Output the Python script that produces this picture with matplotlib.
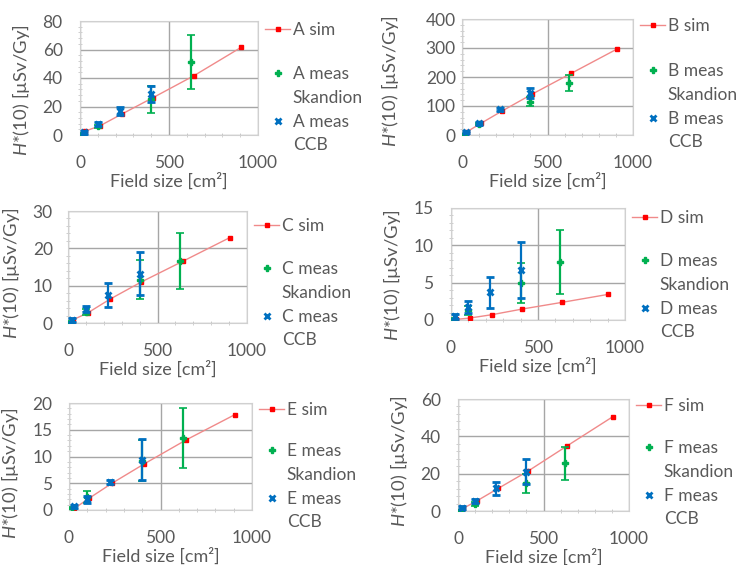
import numpy as np
import matplotlib.pyplot as plt
from matplotlib.lines import Line2D
from matplotlib.ticker import MultipleLocator, AutoMinorLocator

plt.rcParams['font.family'] = ['Lato', 'DejaVu Sans']
plt.rcParams['mathtext.fontset'] = 'custom'
plt.rcParams['mathtext.it'] = 'Lato:italic'
plt.rcParams['mathtext.rm'] = 'Lato'

# field sizes [cm2]
sim_x = [30, 110, 235, 410, 640, 905]
skan_x = [16, 100, 400, 625]
ccb_x = [25, 100, 225, 400]

# panel A
a_sim = [2.8, 6.3, 14.7, 26.2, 41.6, 61.5]
a_skan = [1.0, 6.0, 25.0, 51.0]
a_skan_err = [0.5, 1.0, 9.5, 19.0]
a_ccb = [2.0, 7.5, 17.0, 29.0]
a_ccb_err = [1.0, 1.5, 2.8, 5.5]

# panel B
b_sim = [11.5, 40, 83, 141, 213, 296]
b_skan = [3, 38, 115, 179]
b_skan_err = [1.5, 4, 15, 27]
b_ccb = [11, 40, 88, 145]
b_ccb_err = [4, 6, 6, 18]

# panel C
c_sim = [0.9, 2.7, 6.4, 11.0, 16.5, 22.9]
c_skan = [0.3, 3.0, 11.6, 16.5]
c_skan_err = [0.2, 0.8, 5.2, 7.5]
c_ccb = [0.8, 3.8, 7.6, 13.2]
c_ccb_err = [0.5, 0.8, 3.2, 5.7]

# panel D
d_sim = [0.08, 0.27, 0.71, 1.47, 2.37, 3.44]
d_skan = [0.2, 1.3, 5.0, 7.8]
d_skan_err = [0.1, 0.6, 2.7, 4.3]
d_ccb = [0.5, 1.8, 3.7, 6.7]
d_ccb_err = [0.3, 0.8, 2.1, 3.7]

# panel E
e_sim = [0.3, 2.2, 5.0, 8.6, 13.1, 17.8]
e_skan = [0.3, 2.5, 9.2, 13.4]
e_skan_err = [0.2, 1.1, 3.8, 5.6]
e_ccb = [0.7, 2.0, 5.3, 9.4]
e_ccb_err = [0.3, 0.6, 0.4, 3.8]

# panel F
f_sim = [1.4, 5.4, 12.1, 21.4, 35.0, 50.5]
f_skan = [0.5, 3.8, 14.8, 25.5]
f_skan_err = [0.3, 1.0, 5.0, 9.0]
f_ccb = [1.8, 5.4, 12.1, 21.0]
f_ccb_err = [0.8, 1.2, 3.7, 6.8]

panels = [
    ("A", a_sim, a_skan, a_skan_err, a_ccb, a_ccb_err, 80, 20),
    ("B", b_sim, b_skan, b_skan_err, b_ccb, b_ccb_err, 400, 100),
    ("C", c_sim, c_skan, c_skan_err, c_ccb, c_ccb_err, 30, 10),
    ("D", d_sim, d_skan, d_skan_err, d_ccb, d_ccb_err, 15, 5),
    ("E", e_sim, e_skan, e_skan_err, e_ccb, e_ccb_err, 20, 5),
    ("F", f_sim, f_skan, f_skan_err, f_ccb, f_ccb_err, 60, 20),
]

# layout in pixels: axes box (left, right, top, bottom), y tick pad,
# y label offset (dx, dy), legend rows (sim row, first meas row) below axes top
layout = [
    ((80, 258, 21, 135), 12.5, (48, 12), (6, 52)),
    ((462, 633, 19, 135), 4.5, (61, 4), (4, 51)),
    ((68, 247, 211, 323), 11.0, (46, 6), (12, 57)),
    ((451, 625, 208, 320), 12.5, (48, 11), (7, 52)),
    ((69, 252, 403, 510), 12.0, (48, 17), (4, 47)),
    ((458, 629, 399, 511), 12.5, (48, 6), (4, 48)),
]

W, H = 756, 565
txt = '#595959'
red, red_line, green, blue = '#ff0000', '#f08a8a', '#00b050', '#0070c0'
fs = 12.5
fig = plt.figure(figsize=(W / 100, H / 100), dpi=100)

for (name, sim, skan, skan_err, ccb, ccb_err, ymax, ystep), \
        ((l, r, t, b), ypad, (ldx, ldy), (sim_row, meas_row)) in zip(panels, layout):
    w, h = r - l, b - t
    ax = fig.add_axes([l / W, 1 - b / H, w / W, h / H])
    ax.plot(sim_x, sim, color=red_line, lw=1.0, marker='s', ms=3.5,
            mfc=red, mec=red, zorder=3)
    ax.errorbar(skan_x, skan, yerr=skan_err, fmt='P', ms=4, color=green,
                ecolor=green, elinewidth=1.6, capsize=3, capthick=1.2, zorder=4)
    ax.errorbar(ccb_x, ccb, yerr=ccb_err, fmt='x', ms=5, mew=2, color=blue,
                ecolor=blue, elinewidth=1.6, capsize=3, capthick=1.2, zorder=5)

    ax.set_xlim(0, 1000)
    ax.set_ylim(0, ymax)
    ax.xaxis.set_major_locator(MultipleLocator(500))
    ax.yaxis.set_major_locator(MultipleLocator(ystep))
    ax.xaxis.set_minor_locator(AutoMinorLocator(5))
    ax.yaxis.set_minor_locator(AutoMinorLocator(5))
    ax.grid(True, which='major', color='#a6a6a6', lw=1.0)
    ax.set_axisbelow(True)
    for s in ax.spines.values():
        s.set_color('#d0d0d0')
    ax.tick_params(which='major', length=0, labelsize=fs, labelcolor=txt)
    ax.tick_params(axis='x', which='major', pad=14.5)
    ax.tick_params(axis='y', which='major', pad=ypad)
    ax.tick_params(which='minor', length=3, color='#c8c8c8', direction='inout')
    ax.set_xlabel('Field size [cm²]', fontsize=13, color=txt, labelpad=1)
    ax.set_ylabel(r'$H$*(10) [µSv/Gy]', fontsize=13.3, color=txt)
    ax.yaxis.set_label_coords(-ldx / w, 0.5 - ldy / h)

    # legend: simulated line on its own, measurements as two-line entries
    h_sim = Line2D([], [], color=red_line, lw=1.0, marker='s', ms=3.5, mfc=red, mec=red)
    h_skan = Line2D([], [], ls='none', marker='P', ms=4, color=green)
    h_ccb = Line2D([], [], ls='none', marker='x', ms=5, mew=2, color=blue)
    h_none = Line2D([], [], ls='none')
    common = dict(frameon=False, fontsize=fs, handlelength=1.45, handletextpad=0.15,
                  borderaxespad=0, borderpad=0, labelcolor=txt)
    leg1 = ax.legend([h_sim], [f'{name} sim'], loc='center left',
                     bbox_to_anchor=(1 + 7 / w, 1 - (sim_row + 3) / h), **common)
    ax.add_artist(leg1)
    ax.legend([h_skan, h_none, h_ccb, h_none],
              [f'{name} meas', 'Skandion', f'{name} meas', 'CCB'],
              loc='upper left', bbox_to_anchor=(1 + 7 / w, 1 - (meas_row - 7) / h),
              labelspacing=0.45, **common)

fig.savefig('out.png', dpi=100)
